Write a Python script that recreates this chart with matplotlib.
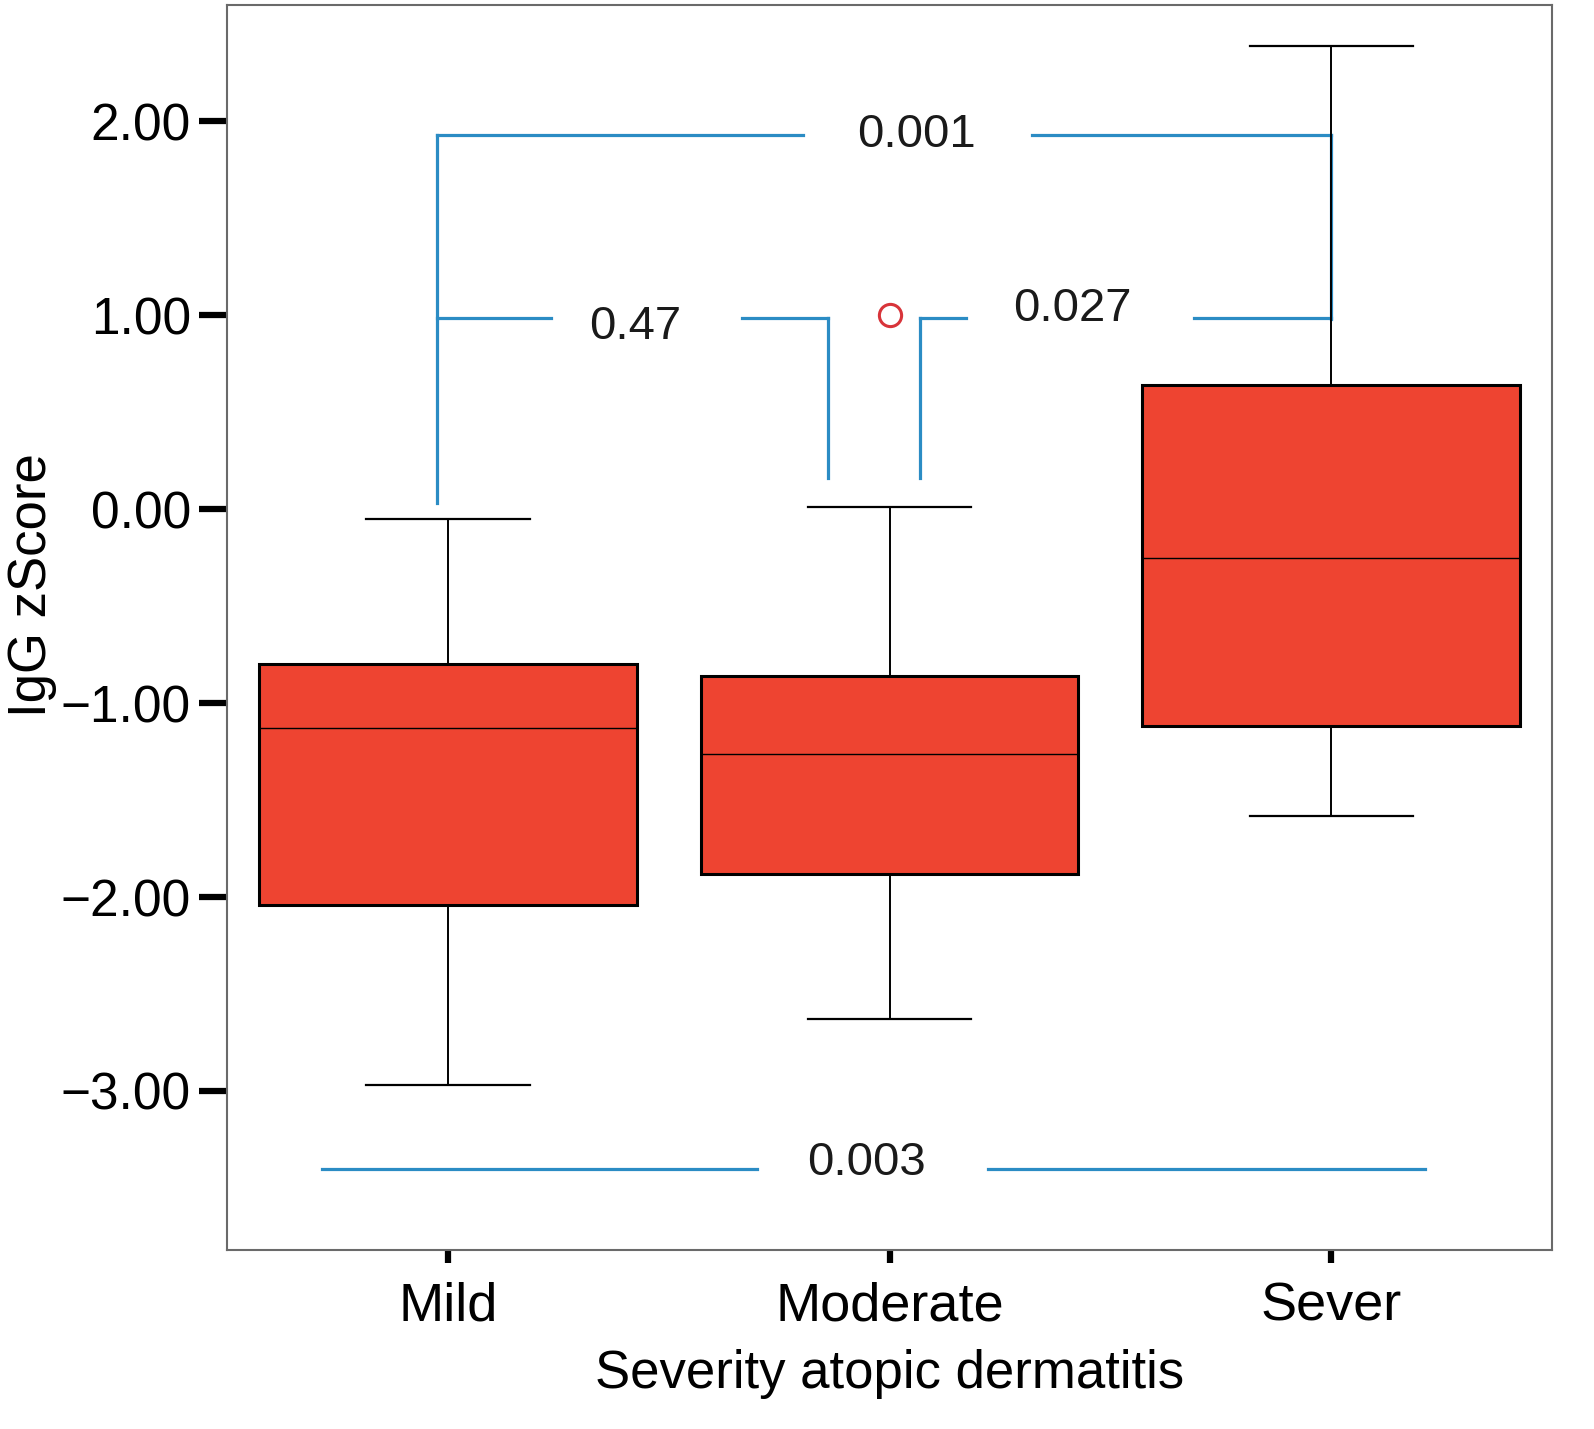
import matplotlib
matplotlib.use("Agg")
import matplotlib.pyplot as plt

# box statistics
groups = ["Mild", "Moderate", "Sever"]
whislo = [-2.97, -2.63, -1.58]
q1 = [-2.04, -1.88, -1.12]
med = [-1.13, -1.26, -0.25]
q3 = [-0.80, -0.86, 0.64]
whishi = [-0.05, 0.01, 2.39]
fliers = [[], [1.0], []]

# p-value brackets
p_top = "0.001"
p_mild_mod = "0.47"
p_mod_sev = "0.027"
p_bottom = "0.003"

plt.rcParams['font.family'] = ['Liberation Sans', 'DejaVu Sans']

fig = plt.figure(figsize=(15.94, 14.29), dpi=100)
ax = fig.add_axes([0.1424, 0.1253, 0.8313, 0.8712])

stats = []
for i, g in enumerate(groups):
    stats.append({"label": g, "whislo": whislo[i], "q1": q1[i], "med": med[i],
                  "q3": q3[i], "whishi": whishi[i], "fliers": fliers[i]})

blue = "#2b8cc4"
lw_b = 2.3

# brackets first so whiskers sit on top
ax.plot([-0.025, -0.025], [0.03, 1.93], color=blue, lw=lw_b)
ax.plot([-0.025, 0.805], [1.93, 1.93], color=blue, lw=lw_b)
ax.plot([1.323, 2.0], [1.93, 1.93], color=blue, lw=lw_b)
ax.plot([2.0, 2.0], [1.93, 0.98], color=blue, lw=lw_b)
ax.text(1.061, 1.93, p_top, ha="center", va="center", fontsize=34, color="#1a1a1a")

ax.plot([-0.025, 0.233], [0.985, 0.985], color=blue, lw=lw_b)
ax.plot([0.665, 0.86], [0.985, 0.985], color=blue, lw=lw_b)
ax.plot([0.86, 0.86], [0.985, 0.16], color=blue, lw=lw_b)
ax.text(0.425, 0.94, p_mild_mod, ha="center", va="center", fontsize=34, color="#1a1a1a")

ax.plot([1.07, 1.07], [0.16, 0.985], color=blue, lw=lw_b)
ax.plot([1.07, 1.174], [0.985, 0.985], color=blue, lw=lw_b)
ax.plot([1.69, 2.0], [0.985, 0.985], color=blue, lw=lw_b)
ax.text(1.414, 1.03, p_mod_sev, ha="center", va="center", fontsize=34, color="#1a1a1a")

ax.plot([-0.285, 0.70], [-3.40, -3.40], color=blue, lw=lw_b)
ax.plot([1.222, 2.213], [-3.40, -3.40], color=blue, lw=lw_b)
ax.text(0.948, -3.37, p_bottom, ha="center", va="center", fontsize=34, color="#1a1a1a")

ax.bxp(stats, positions=[0, 1, 2], widths=0.855, patch_artist=True,
       boxprops=dict(facecolor="#ee4431", edgecolor="black", linewidth=2.2),
       medianprops=dict(color="black", linewidth=1.0),
       whiskerprops=dict(color="black", linewidth=1.4),
       capprops=dict(color="black", linewidth=1.6),
       capwidths=0.37,
       flierprops=dict(marker="o", markerfacecolor="none", markeredgecolor="#d8343a",
                       markersize=16, markeredgewidth=2.2))

ax.set_xlim(-0.5, 2.5)
ax.set_ylim(-3.82, 2.60)
ax.set_yticks([2, 1, 0, -1, -2, -3])
ax.set_yticklabels(["2.00", "1.00", "0.00", "\u22121.00", "\u22122.00", "\u22123.00"])
ax.set_xticks([0, 1, 2])
ax.set_xticklabels(groups)

for s in ax.spines.values():
    s.set_color("#6a6a6a")
    s.set_linewidth(1.5)

ax.tick_params(axis="y", length=20, width=4.5, color="black", labelsize=37, pad=6)
ax.tick_params(axis="x", length=9, width=4.5, color="black", labelsize=39, pad=14)

ax.set_xlabel("Severity atopic dermatitis", fontsize=38, labelpad=12)
ax.set_ylabel("IgG zScore", fontsize=38)
ax.yaxis.set_label_coords(-0.128, 0.534)

plt.savefig("out.png", dpi=100)
